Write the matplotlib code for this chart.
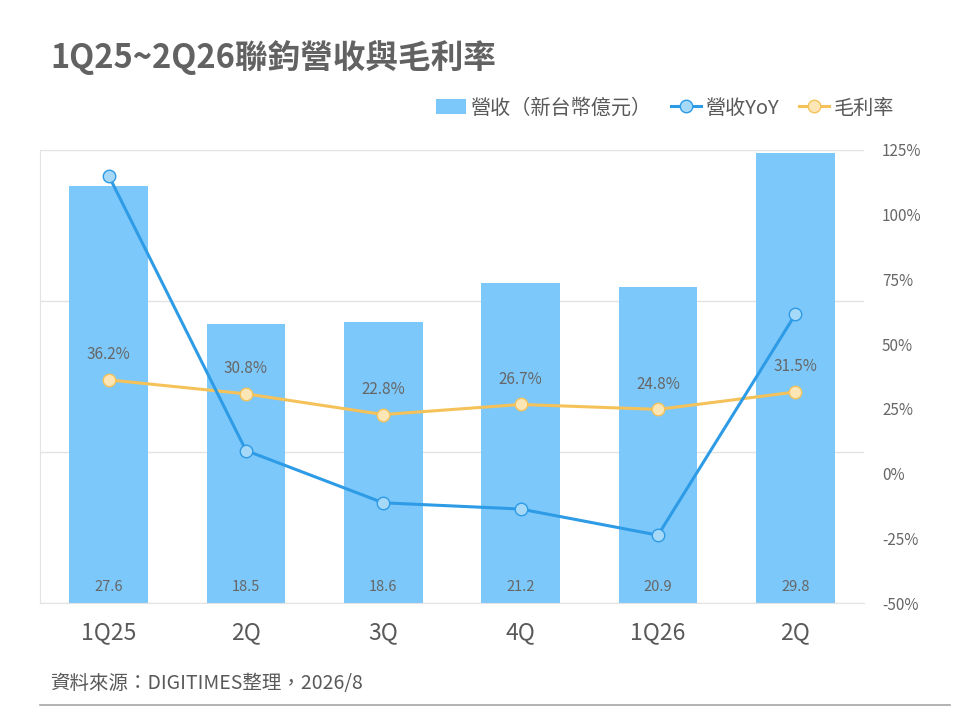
import numpy as np
import matplotlib.pyplot as plt
from matplotlib.patches import Patch
from matplotlib.lines import Line2D

plt.rcParams["font.family"] = ["Noto Sans CJK TC", "DejaVu Sans"]

quarters = ["1Q25", "2Q", "3Q", "4Q", "1Q26", "2Q"]
revenue = [27.6, 18.5, 18.6, 21.2, 20.9, 29.8]        # 新台幣億元
revenue_yoy = [115.1, 8.9, -11.3, -13.7, -23.8, 61.5]  # %
gross_margin = [36.2, 30.8, 22.8, 26.7, 24.8, 31.5]    # %

BAR_C    = "#7DC8FA"
YOY_C    = "#2E9BE6"
YOY_MK   = "#A6D9F8"
GM_C     = "#F5C25A"
GM_MK    = "#FDE6B6"
TXT      = "#666666"
GRID_C   = "#E3E3E3"

fig = plt.figure(figsize=(9.6, 7.2), dpi=100)
ax = fig.add_axes([40 / 960, 117 / 720, 824 / 960, 453 / 720])
x = np.arange(len(quarters))

ax.bar(x, revenue, width=0.575, color=BAR_C, zorder=2)
for xi, v in zip(x, revenue):
    ax.text(xi, 0.6, f"{v}", ha="center", va="bottom", fontsize=10.5, color=TXT, zorder=5)

ax.set_xlim(-0.5, len(quarters) - 0.5)
ax.set_ylim(0, 30)
ax.set_yticks([0, 10, 20, 30])
ax.set_yticklabels([])
ax.tick_params(axis="y", length=0)
ax.grid(axis="y", color=GRID_C, linewidth=1, zorder=0)
ax.set_xticks(x)
ax.set_xticklabels(quarters, fontsize=16.5, color="#595959")
ax.tick_params(axis="x", length=0, pad=13)
for s in ["top", "right"]:
    ax.spines[s].set_visible(False)
ax.spines["left"].set_color(GRID_C)
ax.spines["bottom"].set_color(GRID_C)

ax2 = ax.twinx()
ax2.set_ylim(-50, 125)
ax2.set_yticks(np.arange(-50, 126, 25))
ax2.set_yticklabels([f"{t}%" for t in range(-50, 126, 25)], fontsize=11, color=TXT)
ax2.tick_params(axis="y", length=0, pad=13)
for s in ax2.spines.values():
    s.set_visible(False)

ax2.plot(x, gross_margin, color=GM_C, linewidth=2.2, marker="o", markersize=9,
         markerfacecolor=GM_MK, markeredgecolor=GM_C, markeredgewidth=1, zorder=3)
for xi, v in zip(x, gross_margin):
    ax2.annotate(f"{v}%", (xi, v), xytext=(0, 12), textcoords="offset points",
                 ha="center", va="bottom", fontsize=11, color=TXT)

ax2.plot(x, revenue_yoy, color=YOY_C, linewidth=2.2, marker="o", markersize=9,
         markerfacecolor=YOY_MK, markeredgecolor=YOY_C, markeredgewidth=1, zorder=4)

handles = [
    Patch(facecolor=BAR_C, edgecolor="none"),
    Line2D([0], [0], color=YOY_C, linewidth=2.2, marker="o", markersize=9,
           markerfacecolor=YOY_MK, markeredgecolor=YOY_C),
    Line2D([0], [0], color=GM_C, linewidth=2.2, marker="o", markersize=9,
           markerfacecolor=GM_MK, markeredgecolor=GM_C),
]
labels = ["營收（新台幣億元）", "營收YoY", "毛利率"]
leg = fig.legend(handles, labels, loc="center right", bbox_to_anchor=(912 / 960, 1 - 108 / 720),
                 ncol=3, frameon=False, fontsize=14.5, handlelength=1.5, handletextpad=0.2,
                 columnspacing=1.0)
for t in leg.get_texts():
    t.set_color("#595959")

fig.text(50 / 960, 1 - 57 / 720, "1Q25~2Q26聯鈞營收與毛利率", fontsize=23.5, fontweight="bold",
         color="#626262", ha="left", va="center")
fig.text(50 / 960, 1 - 683 / 720, "資料來源：DIGITIMES整理，2026/8", fontsize=14,
         color="#595959", ha="left", va="center")
fig.add_artist(Line2D([40 / 960, 950 / 960], [1 - 705 / 720, 1 - 705 / 720],
                      color="#A6A6A6", linewidth=1.2))

fig.savefig("out.png", dpi=100)
